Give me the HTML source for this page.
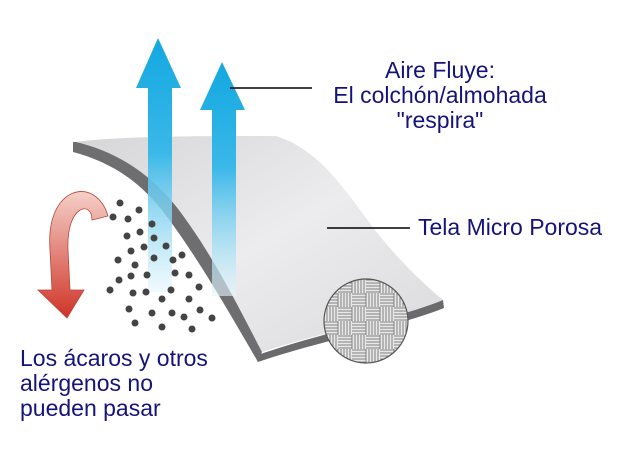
<!DOCTYPE html>
<html><head><style>
body{margin:0;background:#fff;width:624px;height:458px;overflow:hidden;position:relative;font-family:"Liberation Sans",sans-serif}
.t{position:absolute;color:#15137a;font-size:23px;line-height:25px}
</style></head><body>
<svg width="624" height="458" style="position:absolute;left:0;top:0">
<defs>
<linearGradient id="top" x1="0" y1="0" x2="1" y2="1">
<stop offset="0" stop-color="#d6d6d8"/><stop offset="0.5" stop-color="#ececee"/><stop offset="1" stop-color="#dadadc"/></linearGradient>
<linearGradient id="blue" x1="0" y1="0" x2="0" y2="1">
<stop offset="0" stop-color="#12a8e0"/><stop offset="0.45" stop-color="#3ab8e8"/><stop offset="1" stop-color="#e6f6fc" stop-opacity="0.6"/></linearGradient>
<linearGradient id="red" x1="0" y1="0" x2="0" y2="1">
<stop offset="0" stop-color="#f4d0c8"/><stop offset="1" stop-color="#d03428"/></linearGradient>
<clipPath id="cc"><circle cx="366" cy="321" r="42"/></clipPath>
</defs>
<path d="M76,142 C120,136 200,136 276,136 C320,150 345,190 375,230 C400,262 425,285 443,300 C400,318 330,330 262,352 C235,300 210,250 175,205 C145,168 110,150 76,142Z" fill="url(#top)"/>
<path d="M443,300 L444,308 C400,326 330,338 258,362 L255,356 C330,330 400,318 443,300Z" fill="#6a6a6c"/>
<path d="M73,142 L76,142 C110,150 145,168 175,205 C210,250 235,300 262,352 L258,362 C225,305 200,262 168,218 C140,180 110,162 73,152Z" fill="#6e6e70"/>
<path d="M158,38 L181,88 L172,88 L172,292 L148,292 L148,88 L136,88Z" fill="url(#blue)"/>
<path d="M222,62 L245,110 L236,110 L236,296 L212,296 L212,110 L200,110Z" fill="url(#blue)"/>
<path d="M108,216 C96,175 45,185 50,250 L52,290 L38,290 L67,318 L84,290 L70,290 L68,250 C66,205 92,200 92,220Z" fill="url(#red)" stroke="#b8473c" stroke-width="0.8"/>
<g fill="#444">
<circle cx="120" cy="203" r="3.5"/><circle cx="139" cy="210" r="3.5"/><circle cx="113" cy="217" r="3.5"/><circle cx="128" cy="219" r="3.5"/><circle cx="152" cy="224" r="3.5"/>
<circle cx="127" cy="236" r="3.5"/><circle cx="140" cy="232" r="3.5"/><circle cx="154" cy="238" r="3.5"/><circle cx="144" cy="247" r="3.5"/><circle cx="166" cy="246" r="3.5"/>
<circle cx="118" cy="260" r="3.5"/><circle cx="131" cy="251" r="3.5"/><circle cx="154" cy="258" r="3.5"/><circle cx="173" cy="260" r="3.5"/><circle cx="135" cy="265" r="3.5"/>
<circle cx="119" cy="280" r="3.5"/><circle cx="131" cy="276" r="3.5"/><circle cx="147" cy="275" r="3.5"/><circle cx="175" cy="273" r="3.5"/><circle cx="189" cy="275" r="3.5"/>
<circle cx="133" cy="293" r="3.5"/><circle cx="146" cy="292" r="3.5"/><circle cx="162" cy="299" r="3.5"/><circle cx="171" cy="290" r="3.5"/><circle cx="189" cy="299" r="3.5"/><circle cx="199" cy="287" r="3.5"/>
<circle cx="129" cy="309" r="3.5"/><circle cx="152" cy="313" r="3.5"/><circle cx="172" cy="313" r="3.5"/><circle cx="184" cy="317" r="3.5"/><circle cx="200" cy="310" r="3.5"/><circle cx="212" cy="318" r="3.5"/>
<circle cx="135" cy="323" r="3.5"/><circle cx="162" cy="327" r="3.5"/><circle cx="192" cy="329" r="3.5"/><circle cx="110" cy="290" r="3.5"/><circle cx="182" cy="255" r="3.5"/>
</g>
<circle cx="366" cy="321" r="42" fill="#e8e8e8"/>
<g clip-path="url(#cc)" stroke="#808080" stroke-width="1">
<g id="v"><line x1="0" y1="0" x2="0" y2="14"/><line x1="3" y1="0" x2="3" y2="14"/><line x1="6" y1="0" x2="6" y2="14"/><line x1="9" y1="0" x2="9" y2="14"/><line x1="12" y1="0" x2="12" y2="14"/></g>
<g id="h"><line x1="0" y1="0" x2="14" y2="0"/><line x1="0" y1="3" x2="14" y2="3"/><line x1="0" y1="6" x2="14" y2="6"/><line x1="0" y1="9" x2="14" y2="9"/><line x1="0" y1="12" x2="14" y2="12"/></g>
<use href="#v" x="324" y="279"/><use href="#h" x="338" y="280"/><use href="#v" x="352" y="279"/><use href="#h" x="366" y="280"/><use href="#v" x="380" y="279"/><use href="#h" x="394" y="280"/>
<use href="#h" x="324" y="294"/><use href="#v" x="338" y="293"/><use href="#h" x="352" y="294"/><use href="#v" x="366" y="293"/><use href="#h" x="380" y="294"/><use href="#v" x="394" y="293"/>
<use href="#v" x="324" y="307"/><use href="#h" x="338" y="308"/><use href="#v" x="352" y="307"/><use href="#h" x="366" y="308"/><use href="#v" x="380" y="307"/><use href="#h" x="394" y="308"/>
<use href="#h" x="324" y="322"/><use href="#v" x="338" y="321"/><use href="#h" x="352" y="322"/><use href="#v" x="366" y="321"/><use href="#h" x="380" y="322"/><use href="#v" x="394" y="321"/>
<use href="#v" x="324" y="335"/><use href="#h" x="338" y="336"/><use href="#v" x="352" y="335"/><use href="#h" x="366" y="336"/><use href="#v" x="380" y="335"/><use href="#h" x="394" y="336"/>
<use href="#h" x="324" y="350"/><use href="#v" x="338" y="349"/><use href="#h" x="352" y="350"/><use href="#v" x="366" y="349"/><use href="#h" x="380" y="350"/><use href="#v" x="394" y="349"/>
</g>
<circle cx="366" cy="321" r="42" fill="none" stroke="#555" stroke-width="1.2"/>
<line x1="230" y1="88" x2="312" y2="88" stroke="#000" stroke-width="1.5"/>
<line x1="327" y1="228" x2="410" y2="228" stroke="#000" stroke-width="1.5"/>
</svg>
<div class="t" style="left:310px;top:58px;width:260px;text-align:center">Aire Fluye:<br>El colchón/almohada<br>"respira"</div>
<div class="t" style="left:418px;top:215px">Tela Micro Porosa</div>
<div class="t" style="left:20px;top:346px">Los ácaros y otros<br>alérgenos no<br>pueden pasar</div>
</body></html>
